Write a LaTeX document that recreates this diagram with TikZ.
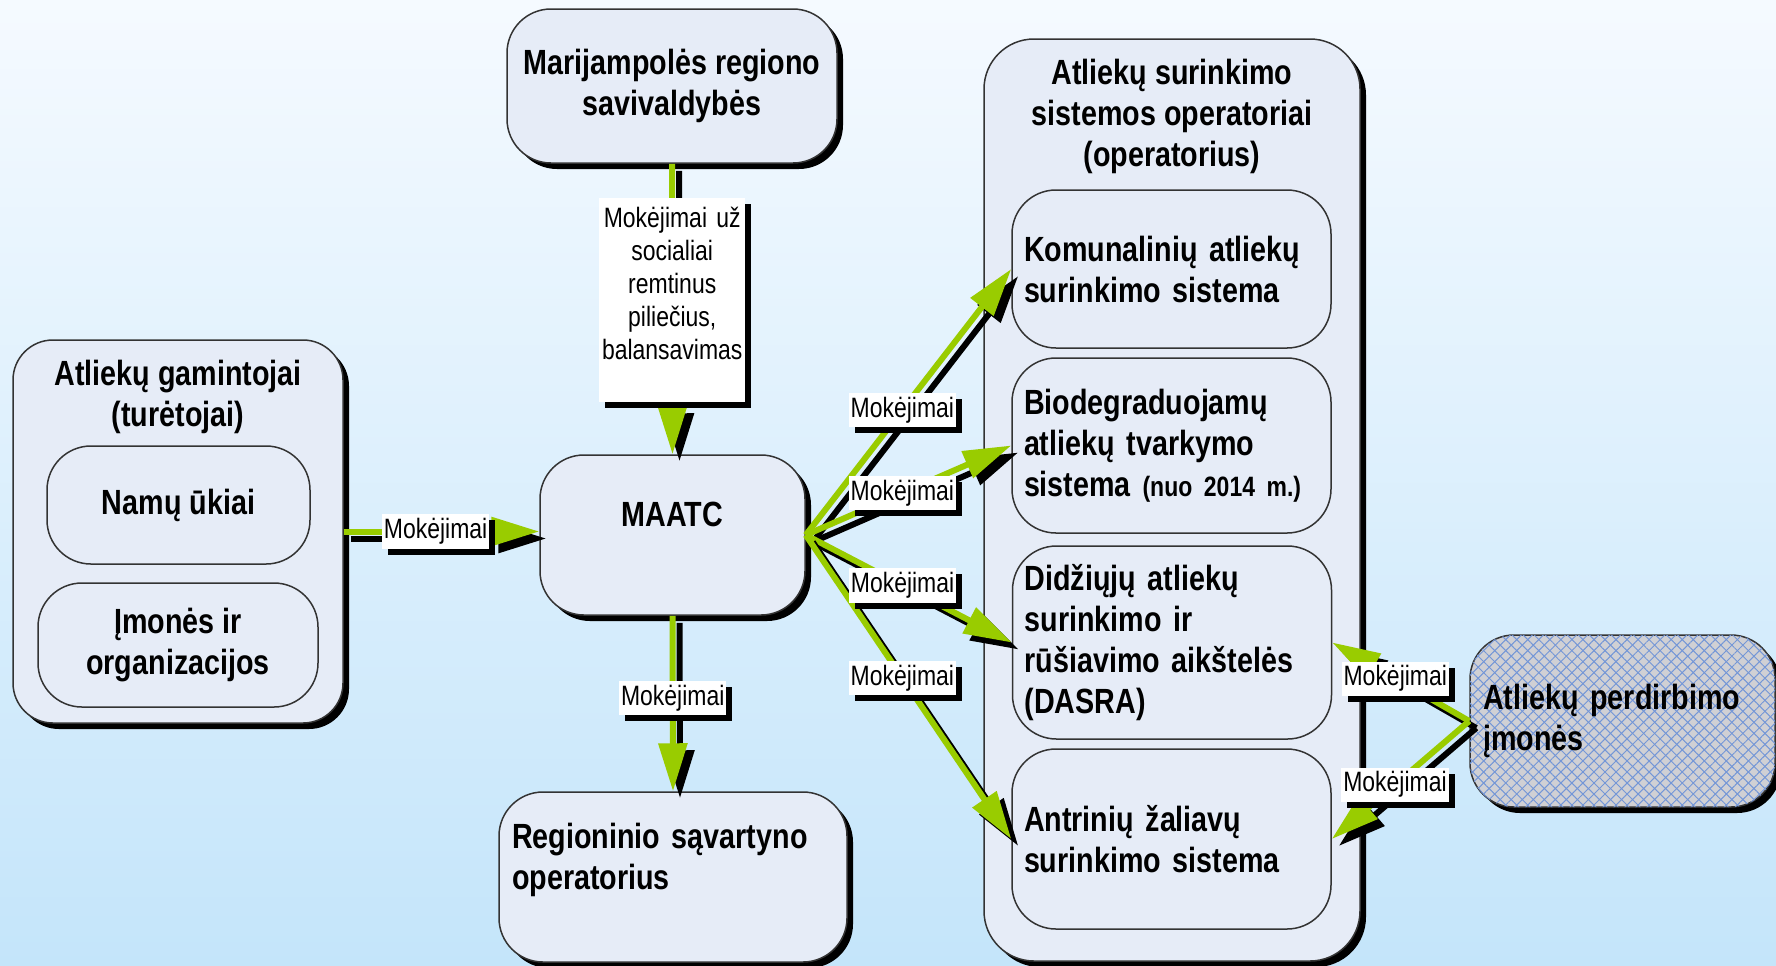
\documentclass[tikz,border=0pt]{standalone}
\usepackage{fontspec}
\setmainfont{Liberation Sans}[FakeStretch=0.82]
\usetikzlibrary{arrows.meta,shadows,patterns.meta}

\definecolor{bgtop}{RGB}{245,250,255}
\definecolor{bgbot}{RGB}{196,229,250}
\definecolor{boxfill}{RGB}{230,236,247}
\definecolor{paygreen}{RGB}{153,204,0}
\definecolor{hatchblue}{RGB}{115,150,215}
\definecolor{hatchgray}{RGB}{208,208,212}
\newcommand\tightspace{\spaceskip=0.23em\relax}

\begin{document}
\begin{tikzpicture}[x=0.5pt,y=0.5pt,yscale=-1,xscale=1,
  roundbox/.style={draw=black!80, line width=0.75pt, fill=boxfill, rounded corners=22pt, font=\fontsize{17.5}{20.5}\selectfont\bfseries\tightspace, align=center, inner sep=0pt},
  shadowed/.style={drop shadow={shadow xshift=3pt, shadow yshift=-3pt, fill=black, opacity=1}},
  sysbox/.style={roundbox, align=left, inner xsep=6pt, text width=147.5pt, minimum height=#1},
  grouptitle/.style={font=\fontsize{17.5}{20.5}\selectfont\bfseries\tightspace, align=center, inner sep=0pt},
  pay/.style={draw=paygreen, line width=3pt, -{Triangle[length=24pt,width=14pt]}, preaction={draw=black, line width=3pt, transform canvas={shift={(3.5pt,-3.5pt)}}}},
  lbl/.style={fill=white, font=\fontsize{14}{16.5}\selectfont\tightspace, inner xsep=1pt, inner ysep=2pt, minimum height=17pt, shadowed}
]
\useasboundingbox (0,0) rectangle (1776,965);
%Shape: Background
\fill[top color=bgtop, bottom color=bgbot] (0,0) rectangle (1776,965);

%Shape: Rounded Rect [gamintojai]
\node[roundbox, shadowed, rounded corners=20pt, minimum width=165pt, minimum height=191.5pt] (gam) at (178,531.5) {};
% Text Node
\node[grouptitle] (gamtitle) at (178,397) {Atliekų gamintojai\\(turėtojai)};
\node[roundbox, minimum width=131.5pt, minimum height=59pt] (namai) at (178.5,505) {Namų ūkiai};
\node[roundbox, minimum width=140pt, minimum height=62pt] (imones) at (178,645) {Įmonės ir\\organizacijos};

%Shape: Rounded Rect [savivaldybes, MAATC, savartynas]
\node[roundbox, shadowed, minimum width=165pt, minimum height=77pt] (savivald) at (672,86) {Marijampolės regiono\\savivaldybės};
\node[roundbox, shadowed, minimum width=132.5pt, minimum height=80pt] (maatc) at (672.5,535) {MAATC\\\mbox{}};
\node[roundbox, shadowed, align=left, inner xsep=6.5pt, text width=161pt, minimum height=85pt] (savart) at (673,877) {Regioninio sąvartyno\\operatorius\\\mbox{}};

%Shape: Rounded Rect [operatoriai]
\node[roundbox, shadowed, rounded corners=25pt, minimum width=188pt, minimum height=461pt] (oper) at (1172,500) {};
% Text Node
\node[grouptitle] (opertitle) at (1172,116) {Atliekų surinkimo\\sistemos operatoriai\\(operatorius)};
\node[sysbox=79pt] (komun) at (1171.5,269) {Komunalinių atliekų\\surinkimo sistema};
\node[sysbox=87.5pt] (biodeg) at (1171.5,445.5) {Biodegraduojamų\\atliekų tvarkymo\\sistema {\fontsize{14}{16}\selectfont(nuo 2014 m.)}};
\node[sysbox=96.5pt] (dasra) at (1172,642.5) {Didžiųjų atliekų\\surinkimo ir\\rūšiavimo aikštelės\\(DASRA)};
\node[sysbox=90pt] (antrin) at (1171.5,839) {Antrinių žaliavų\\surinkimo sistema};

%Shape: Rounded Rect [perdirbimas]
\node[roundbox, shadowed, align=left, inner xsep=6.5pt, text width=139.5pt, minimum height=86pt, fill=hatchgray,
  postaction={pattern={Lines[angle=45,distance=3.9pt,line width=.5pt]}, pattern color=hatchblue},
  postaction={pattern={Lines[angle=-45,distance=3.9pt,line width=.5pt]}, pattern color=hatchblue}] (perdirb) at (1622.5,721) {Atliekų perdirbimo\\įmonės};

%Straight Lines [mokejimai]
\draw[pay] (gam.east) -- (gam.east -| maatc.west);
\draw[pay] (savivald.south) -- (maatc.north);
\draw[pay] (maatc.south) -- (savart.north);
\draw[pay] (maatc.east) -- (komun.west);
\draw[pay] (maatc.east) -- (biodeg.west);
\draw[pay] (maatc.east) -- (dasra.west);
\draw[pay] (maatc.east) -- (antrin.west);
\draw[pay] (perdirb.west) -- (dasra.east);
\draw[pay] (perdirb.west) -- (antrin.east);

% Text Node
\path (gam.east) -- (gam.east -| maatc.west) node[lbl, pos=.47] (m1) {Mokėjimai};
\path (savivald.south) -- (maatc.north) node[lbl, pos=.47, text width=71pt, align=center, minimum height=102pt] (m2) {Mokėjimai už\\socialiai\\remtinus\\piliečius,\\balansavimas\\\mbox{}};
\path (maatc.south) -- (savart.north) node[lbl, pos=.47] (m3) {Mokėjimai};
\path (maatc.east) -- (komun.west) node[lbl, pos=.47] (m4) {Mokėjimai};
\path (maatc.east) -- (biodeg.west) node[lbl, pos=.47] (m5) {Mokėjimai};
\path (maatc.east) -- (dasra.west) node[lbl, pos=.47] (m6) {Mokėjimai};
\path (maatc.east) -- (antrin.west) node[lbl, pos=.47] (m7) {Mokėjimai};
\path (perdirb.west) -- (dasra.east) node[lbl, pos=.54] (m8) {Mokėjimai};
\path (perdirb.west) -- (antrin.east) node[lbl, pos=.54] (m9) {Mokėjimai};
\end{tikzpicture}
\end{document}
